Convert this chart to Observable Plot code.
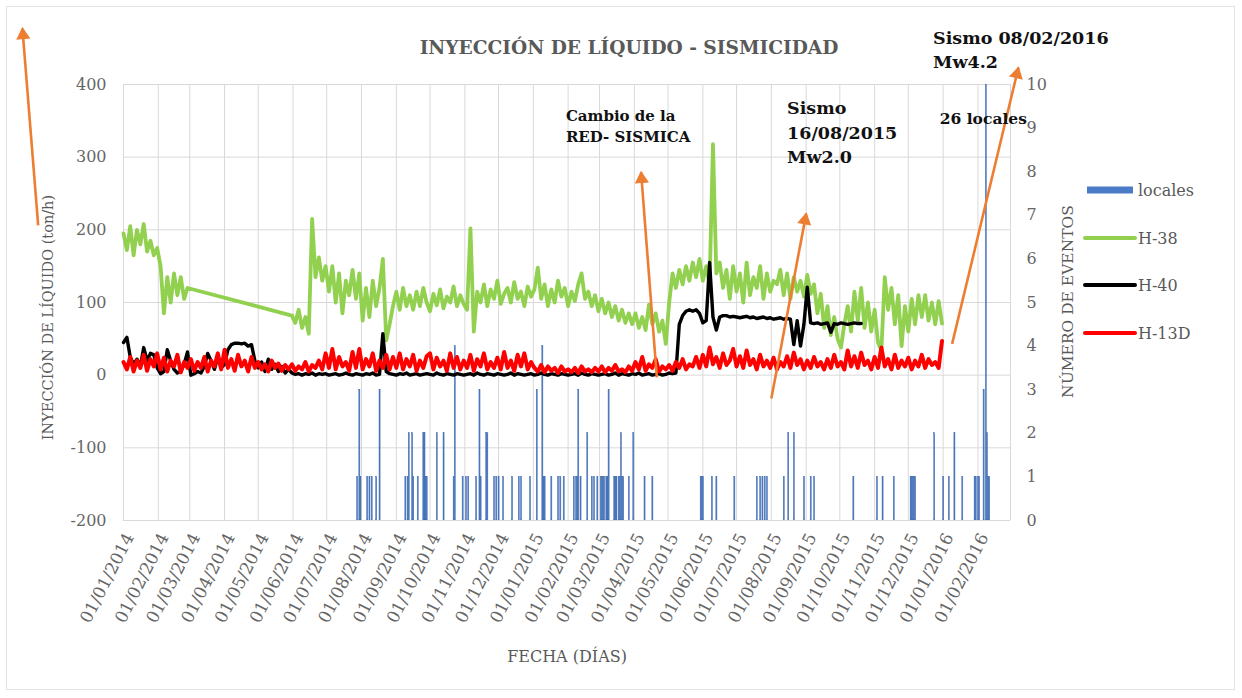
<!DOCTYPE html>
<html><head><meta charset="utf-8">
<script src="https://cdn.jsdelivr.net/npm/d3@7"></script>
<script src="https://cdn.jsdelivr.net/npm/@observablehq/plot@0.6"></script>
<style>
body{margin:0;background:#fff;}
#wrap{position:relative;width:1242px;height:698px;overflow:hidden;}
#border{position:absolute;left:6px;top:6px;width:1229px;height:684px;border:1px solid #e3e3e3;box-sizing:border-box;}
#legend{position:absolute;left:0;top:0;}
</style></head><body><div id="wrap"><div id="border"></div></div>
<script>
// ---------- data ----------
const seriesStart = "2014-01-01";
const stepDays = 3;

// H-38 (ton/h), one value every 3 days from 01/01/2014 (null = no data)
const h38 = [
195,172,205,165,200,180,208,170,185,165,175,
150,85,135,100,140,110,135,105,120,
null,null,null,null,null,null,null,null,null,null,
null,null,null,null,null,null,null,null,null,null,
null,null,null,null,null,null,null,null,null,null,
82,72,90,65,80,57,215,135,162,130,
150,115,150,100,140,85,130,110,145,105,140,75,120,80,130,95,120,160,48,70,95,115,
90,120,95,110,90,115,95,120,100,88,112,96,118,92,108,100,122,95,110,98,
90,202,60,
115,100,125,95,118,105,130,98,112,120,100,128,105,115,95,122,108,118,
148,
105,125,95,118,100,130,108,120,95,115,102,125,140,105,
115,95,110,88,105,85,100,80,95,75,90,72,85,70,
85,65,80,62,97,70,85,60,75,43,
100,140,120,145,125,150,130,155,135,160,
130,150,125,318,140,155,120,
145,105,150,115,140,100,155,110,135,120,150,105,140,115,130,
125,145,110,140,105,135,115,130,108,138,112,
125,85,112,65,95,55,80,50,38,
70,95,60,115,75,120,65,100,60,90,45,34,135,
90,120,70,110,40,95,60,105,70,110,80,110,75,100,70,102,71
];

// H-40 (ton/h), one value every 3 days from 01/01/2014
const h40 = [
45,52,25,15,22,12,38,20,30,28,10,
2,5,35,20,8,3,5,15,32,
0,2,5,3,12,30,20,8,25,10,
15,35,42,44,44,43,44,40,42,20,
10,18,5,22,8,15,5,12,3,8,
3,1,2,0,2,1,3,0,2,1,2,0,1,2,0,1,3,1,0,2,1,0,2,1,3,0,1,
57,5,
2,1,0,2,1,3,0,1,2,0,1,2,1,0,3,1,0,2,1,0,
2,1,0,1,2,0,3,1,0,2,1,0,2,1,0,1,3,0,2,1,
0,1,2,0,1,3,1,0,2,1,0,2,1,0,1,2,0,3,1,0,
2,1,0,1,2,0,1,3,0,2,1,0,2,1,3,0,1,2,0,1,
2,0,1,3,
2,3,70,82,88,90,88,90,85,72,75,155,80,62,80,82,
82,80,81,80,79,80,81,79,80,78,79,80,78,79,77,78,79,77,78,77,
42,75,40,70,121,72,
71,72,70,71,72,59,71,70,72,71,70,71,72,71,71
];

// H-13D (ton/h), one value every 3 days from 01/01/2014
const h13d = [
18,8,25,5,20,10,28,6,22,12,30,
8,24,5,20,12,28,4,18,10,
22,6,18,10,25,5,20,12,30,8,
35,10,22,6,28,12,20,5,25,10,
18,8,15,5,20,10,16,6,14,8,
15,6,12,8,18,5,14,10,20,8,
30,10,36,8,25,12,18,6,32,10,
36,8,22,12,30,6,20,10,28,8,25,
10,30,8,22,12,28,6,20,10,26,
30,8,24,12,20,6,30,10,25,8,
20,10,28,6,22,12,30,8,18,10,
24,8,32,10,20,6,28,12,30,8,18,
10,5,14,4,12,6,10,3,12,5,
8,4,10,3,12,5,8,4,10,
5,12,4,10,6,14,5,8,4,12,6,
18,8,25,6,15,10,22,5,12,8,
14,6,18,10,22,8,15,12,25,10,
28,12,38,15,25,10,30,14,20,36,
12,26,10,34,14,22,8,28,12,20,
10,24,8,18,12,26,10,31,14,22,8,
20,10,25,12,18,8,22,10,28,12,
18,8,34,12,26,10,31,14,20,8,
25,10,38,12,22,8,28,10,20,12,
24,8,20,12,28,10,22,14,18,10,47
];

// locales: daily number of events (secondary axis)
const eventDates = [
"2014-07-28","2014-07-30","2014-07-31","2014-08-06","2014-08-08","2014-08-10","2014-08-14","2014-08-17",
"2014-09-09","2014-09-11","2014-09-12","2014-09-15","2014-09-16","2014-09-20","2014-09-25","2014-09-26","2014-09-27","2014-09-28",
"2014-10-07","2014-10-13","2014-10-22","2014-10-23","2014-10-30","2014-11-02","2014-11-04","2014-11-11","2014-11-14","2014-11-15",
"2014-11-20","2014-11-21","2014-11-27","2014-11-29","2014-12-01","2014-12-05","2014-12-13","2014-12-19","2014-12-21","2014-12-29",
"2015-01-04","2015-01-09","2015-01-10","2015-01-11","2015-01-17","2015-01-23","2015-01-25","2015-01-28",
"2015-02-06","2015-02-08","2015-02-09","2015-02-10","2015-02-12","2015-02-18","2015-02-22","2015-02-24","2015-02-27",
"2015-03-02","2015-03-03","2015-03-04","2015-03-05","2015-03-07","2015-03-08","2015-03-09","2015-03-14","2015-03-15","2015-03-16",
"2015-03-18","2015-03-19","2015-03-20","2015-03-21","2015-03-22","2015-03-27","2015-03-31","2015-04-10","2015-04-17",
"2015-05-30","2015-05-31","2015-06-01","2015-06-09","2015-06-13","2015-06-29","2015-07-19","2015-07-22","2015-07-24","2015-07-26","2015-07-28",
"2015-08-12","2015-08-16","2015-08-21","2015-08-30","2015-09-05","2015-09-08","2015-10-13","2015-11-03","2015-11-08","2015-11-18",
"2015-12-03","2015-12-04","2015-12-05","2015-12-06","2015-12-07","2015-12-24",
"2016-01-01","2016-01-06","2016-01-11","2016-01-18","2016-01-29","2016-01-30","2016-02-01","2016-02-02",
"2016-02-06","2016-02-08","2016-02-09","2016-02-10","2016-02-11"
];
const eventCounts = [
1,3,1,1,1,1,1,3,
1,1,2,2,1,1,2,2,1,1,
2,2,1,4,1,1,1,1,3,1,
2,2,1,1,1,1,1,1,1,1,
3,4,1,1,1,1,1,1,
1,1,1,3,1,2,1,1,1,
1,1,1,1,1,1,3,1,1,1,
1,1,2,1,1,1,2,1,1,
1,1,1,1,1,1,1,1,1,1,1,
1,2,2,1,1,1,1,1,1,1,
1,1,1,1,1,2,
1,1,2,1,1,1,1,1,
3,26,2,1,1
];

const xTickLabels = ["01/01/2014","01/02/2014","01/03/2014","01/04/2014","01/05/2014","01/06/2014","01/07/2014","01/08/2014",
"01/09/2014","01/10/2014","01/11/2014","01/12/2014","01/01/2015","01/02/2015","01/03/2015","01/04/2015","01/05/2015",
"01/06/2015","01/07/2015","01/08/2015","01/09/2015","01/10/2015","01/11/2015","01/12/2015","01/01/2016","01/02/2016"];
const xDomainLabels = ["01/01/2014","01/03/2016"];
const leftTicks = [-200,-100,0,100,200,300,400];
const rightTicks = [0,1,2,3,4,5,6,7,8,9,10];

// annotations (group: 0 = network note, 1 = earthquake notes, 2 = count note)
const annoText = ["Cambio de la","RED- SISMICA","Sismo","16/08/2015","Mw2.0","Sismo 08/02/2016","Mw4.2","26 locales"];
const annoDate = ["2015-01-30","2015-01-30","2015-08-15","2015-08-15","2015-08-15","2015-12-23","2015-12-23","2015-12-29"];
const annoValue = [357,327,367,333,300,463,430,353];
const annoGroup = [0,0,1,1,1,1,1,2];

const arrowFromDate = ["2013-10-17","2015-04-21","2015-08-01","2016-01-09"];
const arrowFromValue = [206,-3,-32,43];
const arrowToDate = ["2013-10-03","2015-04-07","2015-09-01","2016-03-08"];
const arrowToValue = [477,279,222,423];

const legendNames = ["locales","H-38","H-40","H-13D"];

// ---------- build ----------
const parseISO = d3.utcParse("%Y-%m-%d");
const parseDMY = d3.utcParse("%d/%m/%Y");
const fmtDMY = d3.utcFormat("%d/%m/%Y");
const t0 = parseISO(seriesStart);
const toRows = vals => vals.map((v,i)=>({date:d3.utcDay.offset(t0,i*stepDays), value:v})).filter(d=>d.value!=null);
const rowsH38 = toRows(h38), rowsH40 = toRows(h40), rowsH13 = toRows(h13d);
const events = eventDates.map((d,i)=>({date:parseISO(d), count:eventCounts[i]}));
const xTicks = xTickLabels.map(parseDMY);
const xDomain = xDomainLabels.map(parseDMY);
const gridTicks = d3.utcMonth.range(xDomain[0], d3.utcDay.offset(xDomain[1],1));
const sec = c => -200 + 60*c;   // secondary axis (0..10) mapped onto primary (-200..400)
const annos = annoText.map((t,i)=>({text:t, date:parseISO(annoDate[i]), value:annoValue[i], group:annoGroup[i]}));
const arrows = arrowFromDate.map((d,i)=>({x1:parseISO(d), y1:arrowFromValue[i], x2:parseISO(arrowToDate[i]), y2:arrowToValue[i]}));

const W = 1242, H = 698, M = {l:123, r:232, t:84, b:178};
const xOpts = {type:"utc", domain:xDomain};
const yOpts = {domain:[-200,400]};
// arrowheads: filled triangles oriented with the screen direction of each arrow
const sx = Plot.scale({x:{...xOpts, range:[M.l, W-M.r]}});
const sy = Plot.scale({y:{...yOpts, range:[H-M.b, M.t]}});
const heads = arrows.map(a=>{
  const dx = sx.apply(a.x2)-sx.apply(a.x1), dy = sy.apply(a.y2)-sy.apply(a.y1);
  const f = 6.5/Math.hypot(dx,dy);
  return {x:new Date(+a.x2 - f*(a.x2-a.x1)), y:a.y2 - f*(a.y2-a.y1), angle:Math.atan2(dx,-dy)*180/Math.PI};
});

const C = {bar:"#4A7BC8", green:"#92D050", black:"#000000", red:"#FF0000", orange:"#ED7D31", grid:"#D9D9D9", text:"#666666"};
const serif = "DejaVu Serif";
const annoSizes = [15, 17.5, 15.5];

const chart = Plot.plot({
  width:W, height:H,
  marginLeft:M.l, marginRight:M.r, marginTop:M.t, marginBottom:M.b,
  style:{fontFamily:serif, background:"transparent", color:C.text},
  x:xOpts, y:yOpts,
  marks:[
    Plot.gridY({ticks:leftTicks, stroke:C.grid, strokeOpacity:1}),
    Plot.gridX({ticks:gridTicks, stroke:C.grid, strokeOpacity:1}),
    Plot.rect(events, {x1:"date", x2:d=>d3.utcDay.offset(d.date,1), y1:-200, y2:d=>sec(d.count), fill:C.bar, stroke:"#3E67A8", strokeWidth:0.4, clip:true}),
    Plot.line(rowsH38, {x:"date", y:"value", stroke:C.green, strokeWidth:3.8, strokeLinejoin:"round"}),
    Plot.line(rowsH40, {x:"date", y:"value", stroke:C.black, strokeWidth:3.4, strokeLinejoin:"round"}),
    Plot.line(rowsH13, {x:"date", y:"value", stroke:C.red, strokeWidth:4, strokeLinejoin:"round"}),
    Plot.axisY({anchor:"left", ticks:leftTicks, tickFormat:d=>String(d), tickSize:0, tickPadding:17, fontSize:16, label:null, fill:C.text}),
    Plot.axisY({anchor:"right", ticks:rightTicks.map(sec), tickFormat:d=>String(Math.round((d+200)/60)), tickSize:0, tickPadding:16, fontSize:16, label:null, fill:C.text}),
    Plot.axisX({ticks:xTicks, tickFormat:fmtDMY, tickRotate:-63, tickSize:0, tickPadding:14, dx:6, fontSize:17, label:null, fill:C.text}),
    Plot.text(["INYECCIÓN DE LÍQUIDO - SISMICIDAD"], {frameAnchor:"top", dx:62, dy:-44, fontSize:18.6, fontWeight:"bold", fill:"#595959"}),
    Plot.text(["INYECCIÓN DE LÍQUIDO (ton/h)"], {frameAnchor:"left", textAnchor:"middle", dx:-75, dy:15, rotate:-90, fontSize:14.5, fill:"#595959"}),
    Plot.text(["NÚMERO DE EVENTOS"], {frameAnchor:"right", textAnchor:"middle", dx:58, dy:-1, rotate:-90, fontSize:15.5, fill:"#595959"}),
    Plot.text(["FECHA (DÍAS)"], {frameAnchor:"bottom", dy:141, fontSize:16, fill:"#595959"}),
    Plot.link(arrows, {x1:"x1", y1:"y1", x2:"x2", y2:"y2", stroke:C.orange, strokeWidth:2.6}),
    Plot.dot(heads, {x:"x", y:"y", symbol:"triangle", r:4.6, rotate:"angle", fill:C.orange, stroke:C.orange, strokeWidth:1}),
    ...annoSizes.map((s,g)=>Plot.text(annos.filter(d=>d.group===g), {x:"date", y:"value", text:"text", textAnchor:"start", fontWeight:"bold", fontSize:s, fill:"#111"}))
  ]
});
document.getElementById("wrap").appendChild(chart);

// legend
const lg = d3.select("#wrap").append("svg").attr("id","legend").attr("width",W).attr("height",H);
const legendColors = [C.bar, C.green, C.black, C.red];
const legendY = [190,238,285,333];
legendNames.forEach((n,i)=>{
  const g = lg.append("g").attr("transform",`translate(1085,${legendY[i]})`);
  if(i===0) g.append("rect").attr("x",2).attr("y",-3.5).attr("width",46).attr("height",7).attr("fill",legendColors[i]);
  else g.append("line").attr("x1",0).attr("x2",50).attr("stroke",legendColors[i]).attr("stroke-width",4).attr("stroke-linecap","round");
  g.append("text").attr("x",53).attr("dy","0.35em").attr("font-family",serif).attr("font-size",16).attr("fill","#595959").text(n);
});
</script>
</body></html>
